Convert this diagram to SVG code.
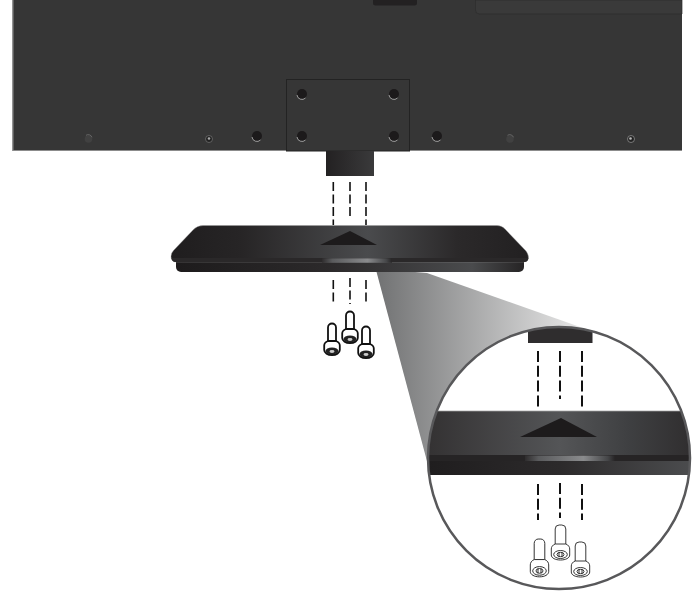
<svg xmlns="http://www.w3.org/2000/svg" xmlns:xlink="http://www.w3.org/1999/xlink" width="697" height="591" viewBox="0 0 697 591">
<style>
.hole{fill:#1c1a1b}
.rim{fill:none;stroke:#b5b5b5;stroke-width:.8}
.dash{fill:none;stroke:#111;stroke-width:1.6;stroke-dasharray:9 3.5}
.dashL{fill:none;stroke:#111;stroke-width:2;stroke-dasharray:11 3.8}
</style>
<defs>
<linearGradient id="baseTop" x1="0" x2="1" y1="0" y2="0"><stop offset="0" stop-color="#1f1d1e"/><stop offset=".2" stop-color="#272526"/><stop offset=".55" stop-color="#4a4b4d"/><stop offset=".8" stop-color="#2b292a"/><stop offset="1" stop-color="#222021"/></linearGradient>
<linearGradient id="baseLow" x1="0" x2="1" y1="0" y2="0"><stop offset="0" stop-color="#1d1b1c"/><stop offset=".45" stop-color="#2c2a2b"/><stop offset=".85" stop-color="#4a4b4d"/><stop offset="1" stop-color="#262425"/></linearGradient>
<linearGradient id="strip" x1="0" x2="1" y1="0" y2="0"><stop offset="0" stop-color="#2e2c2d"/><stop offset=".15" stop-color="#5a5b5d"/><stop offset=".65" stop-color="#8a8b8d"/><stop offset=".92" stop-color="#454648"/><stop offset="1" stop-color="#262425"/></linearGradient>
<linearGradient id="beam" gradientUnits="userSpaceOnUse" x1="375" y1="0" x2="590" y2="0"><stop offset="0" stop-color="#707172"/><stop offset="1" stop-color="#ececec"/></linearGradient>
<linearGradient id="neck" x1="0" x2="1" y1="0" y2="0"><stop offset="0" stop-color="#232122"/><stop offset="1" stop-color="#3a3a3b"/></linearGradient>
<linearGradient id="bandTop" x1="0" x2="1" y1="0" y2="0"><stop offset="0" stop-color="#333132"/><stop offset=".5" stop-color="#545557"/><stop offset=".75" stop-color="#3f4042"/><stop offset="1" stop-color="#2f2d2e"/></linearGradient>
<linearGradient id="bandLow" x1="0" x2="1" y1="0" y2="0"><stop offset="0" stop-color="#1f1d1e"/><stop offset=".5" stop-color="#2c2a2b"/><stop offset="1" stop-color="#4c4d4f"/></linearGradient>
<clipPath id="lens"><circle cx="559" cy="458" r="131"/></clipPath>
<g id="screw">
<path d="M-4 8V-6.500a4 4 0 0 1 8 0V8" fill="#fff"/>
<path d="M-4 7C-6.500 8-7.800 9.500-7.800 11.500v4.500c0 3 3.500 5 7.800 5s7.800-2 7.800-5v-4.500c0-2-1.300-3.500-3.800-4.500z" fill="#fff"/>
<ellipse cx="0" cy="17" rx="6.500" ry="3.500" fill="#222" stroke="none"/>
<ellipse cx="0" cy="17.500" rx="2.500" ry="1.400" fill="#ccc" stroke="none"/>
</g>
<g id="screwL">
<path d="M-5.300 7V-8a4 4 0 0 1 4-4h2.600a4 4 0 0 1 4 4V7" fill="#fff"/>
<path d="M-5.300 7C-8 8-9.200 10-9.200 12v6c0 3 4 5 9.200 5s9.200-2 9.200-5v-6c0-2-1.200-4-3.900-5z" fill="#fff"/>
<ellipse cx="0" cy="17.500" rx="6.800" ry="4" fill="none"/>
<ellipse cx="0" cy="17.500" rx="3.500" ry="2.200" fill="none"/>
<path d="M-1.500 15.500v4M1.500 15.500v4" fill="none"/>
</g>
</defs>
<rect width="697" height="591" fill="#fff"/>

<g id="monitor">
<rect x="12.500" y="0" width="669.500" height="151" fill="#363636"/>
<path d="M13 0V150.500H682" fill="none" stroke="#8c8c8c" stroke-width="1"/>
<path d="M373 0H417V3a2.500 2.500 0 0 1-2.500 2.500H375.500A2.500 2.500 0 0 1 373 3z" fill="#232122"/>
<path d="M475.500 0V10a4 4 0 0 0 4 4H682V0z" fill="#3a3a3a" stroke="#2c2c2c" stroke-width=".7"/>
<rect x="286.500" y="79.500" width="123" height="71.500" fill="#363636" stroke="#232323" stroke-width="1"/>
<circle class="hole" cx="302" cy="94" r="5"/><path class="rim" d="M297 95a5 5 0 0 0 8.500 3"/>
<circle class="hole" cx="302" cy="136" r="5"/><path class="rim" d="M297 137a5 5 0 0 0 8.500 3"/>
<circle class="hole" cx="394" cy="94" r="5"/><path class="rim" d="M389 95a5 5 0 0 0 8.500 3"/>
<circle class="hole" cx="394" cy="136" r="5"/><path class="rim" d="M389 137a5 5 0 0 0 8.500 3"/>
<circle class="hole" cx="257" cy="136" r="5"/><path class="rim" d="M252 137a5 5 0 0 0 8.500 3"/>
<circle class="hole" cx="437" cy="136" r="5"/><path class="rim" d="M432 137a5 5 0 0 0 8.500 3"/>
<circle cx="88.500" cy="139" r="3.800" fill="#414141"/><path d="M86 135.300a4 4 0 0 1 6 2" fill="none" stroke="#777" stroke-width=".7"/>
<circle cx="510" cy="139" r="3.800" fill="#414141"/><path d="M507.500 135.300a4 4 0 0 1 6 2" fill="none" stroke="#777" stroke-width=".7"/>
<circle cx="209" cy="139" r="3.500" fill="#222" stroke="#777" stroke-width=".7"/><circle cx="209" cy="138.500" r="1.300" fill="#aaa"/>
<circle cx="631" cy="139" r="3.500" fill="#222" stroke="#999" stroke-width=".7"/><circle cx="630.500" cy="138.500" r="1.300" fill="#bbb"/>
<rect x="326" y="151" width="48" height="25" fill="url(#neck)"/>
</g>

<g id="beam-shape">
<path d="M376 270H392L427 273L600 334L432 480Z" fill="url(#beam)"/>
</g>

<g id="base">
<path d="M176 261H524V267a5 5 0 0 1-5 5H181a5 5 0 0 1-5-5z" fill="url(#baseLow)"/>
<path d="M203 225.500H497Q502 225.500 505 229L526 251Q528.500 254 528.500 258Q528 262 524 262H176Q171.500 262 171 257Q171 253 173.500 250.500L193 230Q197 225.500 203 225.500z" fill="url(#baseTop)" stroke="#999" stroke-width=".4"/>
<path d="M171.500 258H528.300Q528 262 524 262H176Q172 262 171.500 258z" fill="#2a2829"/>
<rect x="322" y="258.300" width="70" height="4.400" fill="url(#strip)"/>
<path d="M350 231L377 245H320z" fill="#1d1b1c"/>
</g>

<g id="screws">
<g stroke="#111" stroke-width="1.800">
<use xlink:href="#screw" href="#screw" transform="translate(332 334)"/>
<use xlink:href="#screw" href="#screw" transform="translate(350 322)"/>
<use xlink:href="#screw" href="#screw" transform="translate(366 337)"/>
</g>
</g>

<g id="detail">
<circle cx="559" cy="458" r="131" fill="#fff"/>
<g clip-path="url(#lens)">
<rect x="528" y="326" width="64.500" height="17" fill="#2f2d2e"/>
<rect x="425" y="411" width="270" height="44" fill="url(#bandTop)"/>
<rect x="425" y="455" width="270" height="6" fill="#262425"/>
<rect x="525" y="455.500" width="90" height="5.500" fill="url(#strip)"/>
<rect x="425" y="461" width="270" height="14" fill="url(#bandLow)"/>
<rect x="425" y="410.500" width="270" height=".8" fill="#bbb"/>
</g>
<path d="M561 418L597 437H520z" fill="#1d1b1c"/>
<g stroke="#222" stroke-width=".9">
<use xlink:href="#screwL" href="#screwL" transform="translate(539.500 552) scale(1 1.080)"/>
<use xlink:href="#screwL" href="#screwL" transform="translate(560.500 537)"/>
<use xlink:href="#screwL" href="#screwL" transform="translate(580.500 554)"/>
</g>
<circle cx="559" cy="458" r="131" fill="none" stroke="#58585a" stroke-width="2.500"/>
</g>

<g id="connectors">
<path class="dash" d="M333.300 182V225"/>
<path class="dash" d="M350 182V219.500"/>
<path class="dash" d="M366 182V225"/>
<path class="dash" d="M333.300 280V305"/>
<path class="dash" d="M350 278V304"/>
<path class="dash" d="M366 280V305"/>
<path class="dashL" d="M538 351V410"/>
<path class="dashL" d="M560 351V399"/>
<path class="dashL" d="M582 351V410"/>
<path class="dashL" d="M538 484V520"/>
<path class="dashL" d="M560 483V518"/>
<path class="dashL" d="M582 484V520"/>
</g>
</svg>
